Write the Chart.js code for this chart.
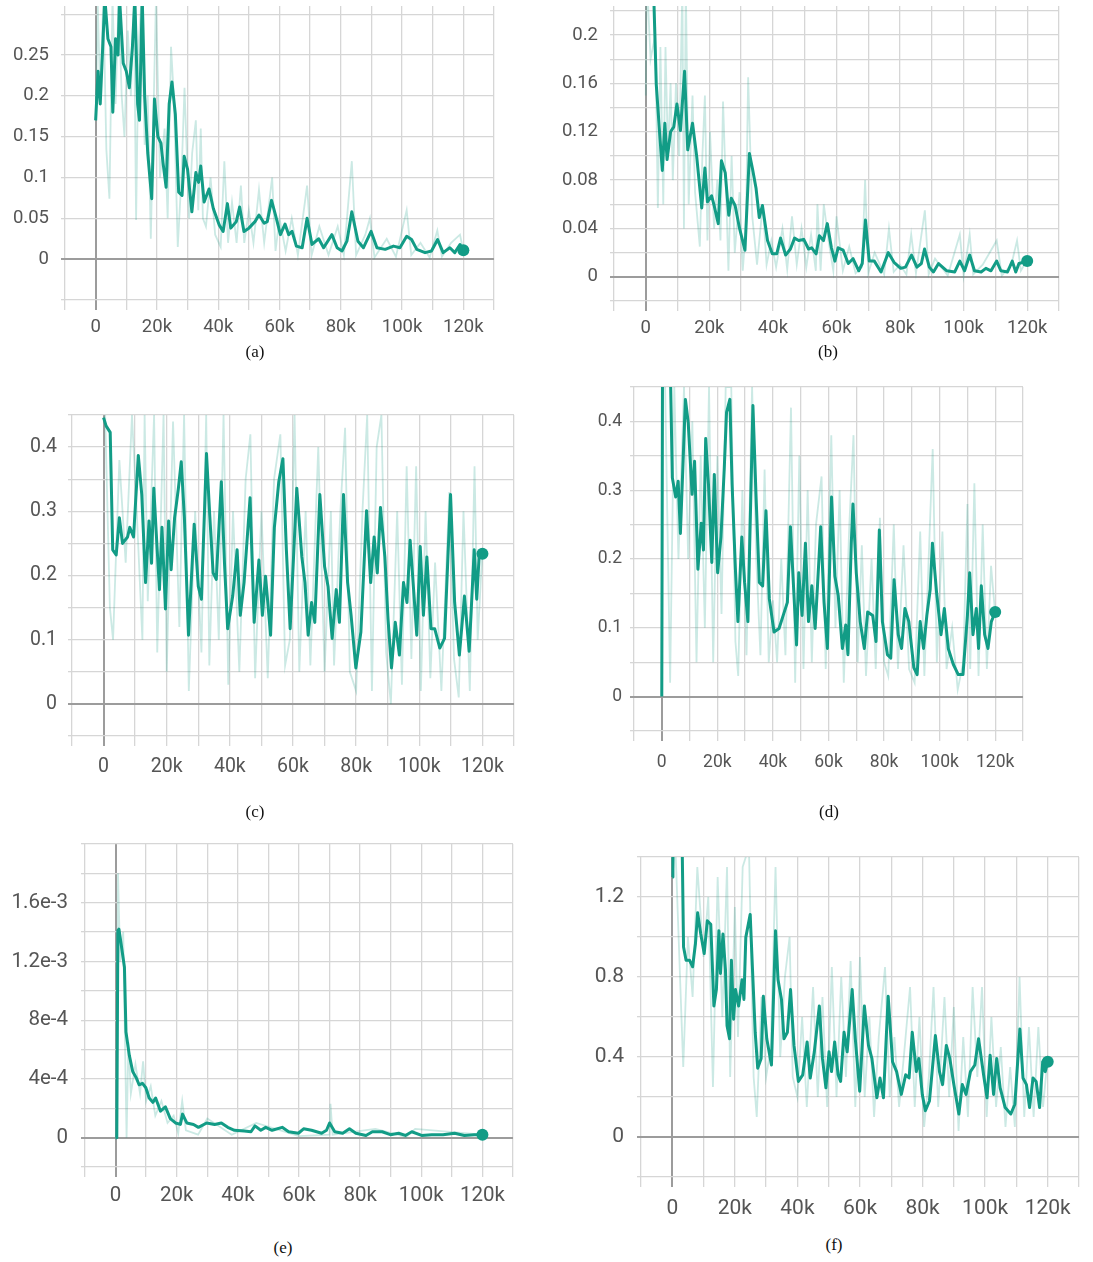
<!DOCTYPE html>
<html>
<head>
<meta charset="utf-8">
<title>Training loss curves</title>
<style>
  body { margin: 0; background: #fff; }
  #page { position: relative; width: 1093px; height: 1262px; overflow: hidden; background: #fff; }
  .panel { position: absolute; }
  .caption {
    position: absolute;
    font-family: "Liberation Serif", "Times New Roman", serif;
    font-size: 17px;
    color: #111;
    transform: translateX(-50%);
  }
</style>
</head>
<body>
<div id="page"></div>

<script src="https://cdn.jsdelivr.net/npm/chart.js"></script>
<script>
  // x axis: training steps in thousands
  const xTicks = [0, 20, 40, 60, 80, 100, 120];
  const xLabels = ["0", "20k", "40k", "60k", "80k", "100k", "120k"];

  // (a)
  const aSteps = [0, 0.8, 1.5, 3, 4, 5, 5.6, 6.5, 7.3, 7.8, 9, 10, 11, 12, 12.8, 13.7, 14.3, 15.2, 16, 17, 18.3, 19.2, 20.3, 21.3, 22, 23, 24, 24.9, 26, 27.1, 28.2, 28.9, 30, 31.4, 32.7, 33.6, 34.3, 35.4, 37, 38.4, 40.3, 41.6, 43, 44.1, 45.9, 47, 48.4, 50, 52, 53.3, 55, 56, 57.4, 58.7, 60.3, 61.8, 63, 64.1, 65.5, 67.4, 69, 70.6, 72.8, 74.4, 77.1, 78.8, 80.4, 82, 83.6, 85.6, 87.4, 89.9, 91.8, 94.5, 97.2, 99.3, 101.5, 103.1, 104.8, 107.5, 109.6, 111.6, 113.4, 115.6, 117.2, 118.9, 120];
  const aSmooth = [0.17, 0.23, 0.19, 0.32, 0.27, 0.26, 0.18, 0.27, 0.25, 0.32, 0.24, 0.23, 0.21, 0.26, 0.32, 0.19, 0.17, 0.32, 0.2, 0.13, 0.074, 0.196, 0.15, 0.142, 0.118, 0.088, 0.19, 0.217, 0.178, 0.082, 0.078, 0.126, 0.11, 0.058, 0.106, 0.094, 0.114, 0.07, 0.086, 0.062, 0.042, 0.034, 0.068, 0.038, 0.046, 0.064, 0.034, 0.038, 0.046, 0.054, 0.044, 0.046, 0.072, 0.054, 0.03, 0.043, 0.03, 0.034, 0.016, 0.014, 0.05, 0.018, 0.025, 0.014, 0.03, 0.014, 0.01, 0.022, 0.058, 0.022, 0.014, 0.034, 0.014, 0.012, 0.016, 0.014, 0.028, 0.024, 0.012, 0.008, 0.01, 0.024, 0.008, 0.014, 0.008, 0.018, 0.011];
  const aRawSteps = [0, 0.7, 1.5, 2.5, 3.5, 4.5, 5.5, 6.5, 7.5, 8.5, 9.4, 10.5, 11.5, 12.5, 13.2, 14, 15, 16, 17, 18, 19, 19.7, 21, 22.5, 23.5, 24.6, 25.5, 26.8, 28, 29, 30.5, 31.5, 32.7, 33.5, 34.3, 35, 36, 37.5, 39, 40.8, 42, 43.2, 44.5, 46, 47.4, 48.5, 50, 51.5, 53.3, 55, 57.6, 58.7, 60, 62, 64, 66, 69, 70.5, 73, 76, 79, 81, 83.6, 85, 88, 89.5, 91, 95, 98, 101.5, 103, 106, 109, 111.5, 113, 116, 118.9, 120];
  const aRaw = [0.17, 0.31, 0.2, 0.32, 0.134, 0.074, 0.32, 0.19, 0.32, 0.2, 0.15, 0.28, 0.2, 0.32, 0.048, 0.26, 0.32, 0.14, 0.2, 0.025, 0.2, 0.32, 0.1, 0.16, 0.05, 0.26, 0.2, 0.015, 0.1, 0.21, 0.05, 0.13, 0.17, 0.06, 0.16, 0.05, 0.04, 0.1, 0.03, 0.015, 0.12, 0.02, 0.07, 0.02, 0.09, 0.02, 0.06, 0.02, 0.085, 0.02, 0.1, 0.01, 0.05, 0.01, 0.05, 0.005, 0.09, 0.005, 0.04, 0.005, 0.04, 0.005, 0.12, 0.005, 0.03, 0.05, 0.002, 0.025, 0.003, 0.06, 0.005, 0.02, 0.002, 0.035, 0.003, 0.02, 0.03, 0.01];
  const aYTicks = [0, 0.05, 0.1, 0.15, 0.2, 0.25];
  const aYLabels = ["0", "0.05", "0.1", "0.15", "0.2", "0.25"];

  // (b)
  const bSteps = [2, 2.6, 3.3, 4.3, 5.2, 6, 6.7, 7.8, 8.8, 9.8, 10.9, 12.2, 13.2, 14.7, 16, 17.6, 18.6, 19.4, 20.7, 21.5, 22.8, 23.8, 25, 26.1, 26.9, 28.1, 29.5, 31.2, 32.6, 33.6, 34.7, 35.7, 36.7, 38.3, 39.8, 41.2, 42.4, 44, 45.5, 46.8, 48.1, 49.7, 51.2, 52.2, 53.6, 54.6, 55.9, 57.1, 58.4, 59.5, 60.5, 62.1, 63.7, 65.2, 67, 68.1, 69.1, 70.3, 71.9, 74, 76.3, 78.1, 80.2, 81.7, 83.6, 85.3, 86.7, 87.7, 89.2, 90.5, 92.1, 94.7, 97.2, 98.8, 100.3, 101.9, 103.4, 105.5, 107, 108.6, 110.4, 111.7, 113.8, 115.3, 116.4, 117.4, 120];
  const bSmooth = [0.25, 0.224, 0.159, 0.121, 0.088, 0.127, 0.097, 0.12, 0.124, 0.143, 0.121, 0.17, 0.105, 0.127, 0.1, 0.057, 0.09, 0.062, 0.067, 0.059, 0.044, 0.096, 0.086, 0.051, 0.065, 0.059, 0.04, 0.022, 0.102, 0.089, 0.073, 0.049, 0.059, 0.03, 0.019, 0.019, 0.032, 0.018, 0.023, 0.032, 0.03, 0.031, 0.023, 0.024, 0.019, 0.034, 0.03, 0.044, 0.024, 0.013, 0.024, 0.022, 0.011, 0.015, 0.005, 0.011, 0.047, 0.013, 0.013, 0.004, 0.02, 0.012, 0.007, 0.008, 0.018, 0.008, 0.011, 0.023, 0.008, 0.004, 0.011, 0.005, 0.004, 0.013, 0.005, 0.018, 0.005, 0.004, 0.007, 0.005, 0.013, 0.005, 0.004, 0.013, 0.004, 0.011, 0.013];
  const bRawSteps = [0, 0.3, 1.5, 3, 3.8, 4.6, 5.5, 6.2, 7, 7.8, 8.5, 9.5, 10.5, 11.5, 12, 12.6, 13.5, 14.7, 15.5, 17, 17.8, 18.6, 19.4, 20.2, 21.5, 22.5, 23.5, 24.3, 25.5, 26, 27, 28, 29.5, 30.5, 31.5, 32.2, 33.5, 35, 36.8, 38, 39.5, 41, 43, 44.5, 46, 47.5, 49, 50.5, 52, 53.5, 54, 55, 56, 57.5, 59, 60, 62, 64, 66, 68, 69, 70, 72, 75, 76.5, 78, 80, 82, 83.5, 85, 87.8, 89, 91, 95, 98.8, 100, 101.9, 103, 106, 110.4, 112, 115, 116.8, 118, 120];
  const bRaw = [0.15, 0.25, 0.18, 0.2, 0.057, 0.19, 0.06, 0.19, 0.1, 0.16, 0.08, 0.16, 0.1, 0.24, 0.04, 0.24, 0.06, 0.15, 0.07, 0.025, 0.1, 0.15, 0.03, 0.12, 0.04, 0.08, 0.03, 0.145, 0.05, 0.005, 0.1, 0.02, 0.07, 0.005, 0.04, 0.165, 0.05, 0.01, 0.06, 0.01, 0.03, 0.008, 0.04, 0.006, 0.05, 0.01, 0.04, 0.008, 0.035, 0.005, 0.06, 0.005, 0.06, 0.03, 0.005, 0.05, 0.005, 0.025, 0.003, 0.008, 0.08, 0.003, 0.02, 0.002, 0.04, 0.004, 0.01, 0.002, 0.035, 0.003, 0.055, 0.002, 0.015, 0.001, 0.035, 0.001, 0.035, 0.002, 0.01, 0.03, 0.001, 0.01, 0.03, 0.005, 0.014];
  const bYTicks = [0, 0.04, 0.08, 0.12, 0.16, 0.2];
  const bYLabels = ["0", "0.04", "0.08", "0.12", "0.16", "0.2"];

  // (c)
  const cSteps = [0, 0.8, 2.1, 2.9, 4, 5, 6, 7.6, 8.3, 9.5, 11, 12.1, 13.3, 14.4, 15.2, 15.9, 16.7, 17.7, 18.5, 19.6, 20.6, 21.4, 22.5, 23.7, 24.6, 25.6, 26.9, 28.7, 30, 31, 32.6, 33.6, 34.7, 35.7, 37.3, 38.3, 39.3, 40.9, 42.3, 43.3, 44.5, 46.4, 47.7, 49.2, 50.3, 51.3, 52.9, 54.1, 55.5, 56.8, 57.9, 59.1, 61.2, 62.8, 63.8, 64.8, 65.9, 66.9, 68.5, 70, 71.1, 72.4, 73.7, 74.7, 76, 77.3, 78.4, 79.9, 81.5, 83.3, 84.6, 85.7, 86.7, 87.7, 89.1, 90.1, 91.2, 92.4, 93.7, 95, 96.1, 97.1, 98.2, 99.2, 100.3, 101.3, 102.4, 103.7, 104.9, 106.5, 108, 109.9, 111.2, 112.7, 114.3, 115.8, 117.4, 118.2, 119, 120];
  const cSmooth = [0.446, 0.433, 0.423, 0.24, 0.232, 0.29, 0.25, 0.26, 0.275, 0.26, 0.387, 0.326, 0.189, 0.285, 0.219, 0.336, 0.265, 0.178, 0.275, 0.148, 0.285, 0.209, 0.29, 0.336, 0.377, 0.29, 0.107, 0.28, 0.183, 0.163, 0.39, 0.296, 0.204, 0.194, 0.346, 0.219, 0.117, 0.168, 0.24, 0.138, 0.189, 0.321, 0.127, 0.224, 0.138, 0.199, 0.107, 0.275, 0.346, 0.382, 0.24, 0.117, 0.336, 0.229, 0.189, 0.107, 0.158, 0.127, 0.326, 0.214, 0.183, 0.102, 0.178, 0.127, 0.326, 0.189, 0.138, 0.056, 0.112, 0.301, 0.189, 0.26, 0.204, 0.306, 0.229, 0.132, 0.056, 0.127, 0.076, 0.189, 0.158, 0.255, 0.178, 0.107, 0.245, 0.138, 0.229, 0.117, 0.117, 0.087, 0.102, 0.326, 0.158, 0.076, 0.168, 0.082, 0.24, 0.163, 0.234, 0.234];
  const cRawSteps = [0.5, 2, 3, 5, 7, 9, 10.5, 12.3, 13, 14, 16, 17, 19, 20, 22, 24, 25.5, 27, 29, 31, 32.5, 33.5, 35, 36.5, 38, 39.5, 41, 43, 45, 46.5, 48, 50, 52, 54, 56, 57.5, 59, 60.5, 62, 64, 65.5, 68, 70, 72, 73, 75, 76.5, 78, 80, 82, 83.5, 85, 86.5, 88, 89.5, 91, 93, 94.5, 96, 97.5, 99, 100.5, 102, 103.5, 105, 107, 109.5, 111, 112.5, 114, 116, 117.5, 118.5, 120];
  const cRaw = [0.45, 0.15, 0.1, 0.38, 0.22, 0.45, 0.3, 0.1, 0.45, 0.16, 0.45, 0.08, 0.45, 0.05, 0.44, 0.12, 0.45, 0.02, 0.3, 0.08, 0.45, 0.06, 0.3, 0.1, 0.45, 0.03, 0.3, 0.05, 0.35, 0.42, 0.04, 0.3, 0.04, 0.35, 0.42, 0.06, 0.1, 0.45, 0.05, 0.3, 0.06, 0.4, 0.05, 0.3, 0.06, 0.3, 0.43, 0.05, 0.02, 0.3, 0.45, 0.02, 0.4, 0.45, 0.08, 0.0, 0.3, 0.03, 0.37, 0.07, 0.37, 0.02, 0.3, 0.04, 0.22, 0.02, 0.33, 0.07, 0.01, 0.3, 0.02, 0.37, 0.1, 0.24];
  const cYTicks = [0, 0.1, 0.2, 0.3, 0.4];
  const cYLabels = ["0", "0.1", "0.2", "0.3", "0.4"];

  // (d)
  const dSteps = [0, 0.3, 2, 3.2, 3.8, 5, 5.9, 6.7, 8.5, 9.5, 10.9, 11.8, 13, 14.2, 15, 15.8, 16.8, 18, 18.9, 20.1, 21.3, 22.5, 23.3, 24.5, 25.3, 26.5, 27.4, 28.8, 29.8, 31, 32.8, 33.9, 35.1, 36.3, 37.5, 38.7, 40.4, 42.2, 43.7, 45.2, 46.3, 48.5, 49.3, 50.5, 51.7, 52.8, 54, 55.2, 57.2, 58.4, 59.6, 61.1, 62.3, 63.5, 65, 66.2, 67, 68.2, 68.8, 70, 71.4, 72.9, 74.1, 75.9, 77.1, 78.3, 79.4, 81.2, 82.4, 83.6, 85.1, 86.3, 87.5, 88.9, 90.7, 91.9, 93, 94.2, 95.4, 96.6, 97.4, 98.9, 100.5, 101.7, 103.1, 104.9, 106.7, 108.4, 110, 110.8, 112, 113.2, 114, 115, 116.2, 117.4, 118.6, 120];
  const dSmooth = [0, 0.55, 0.55, 0.45, 0.318, 0.29, 0.313, 0.237, 0.432, 0.399, 0.294, 0.342, 0.185, 0.252, 0.213, 0.375, 0.309, 0.195, 0.323, 0.18, 0.232, 0.333, 0.413, 0.432, 0.309, 0.185, 0.109, 0.232, 0.166, 0.109, 0.423, 0.294, 0.166, 0.161, 0.27, 0.142, 0.094, 0.099, 0.118, 0.137, 0.247, 0.075, 0.18, 0.118, 0.223, 0.109, 0.161, 0.099, 0.247, 0.137, 0.07, 0.29, 0.175, 0.147, 0.07, 0.104, 0.061, 0.223, 0.28, 0.18, 0.109, 0.07, 0.123, 0.118, 0.08, 0.242, 0.109, 0.061, 0.056, 0.17, 0.09, 0.07, 0.128, 0.109, 0.042, 0.032, 0.109, 0.07, 0.118, 0.156, 0.223, 0.151, 0.09, 0.128, 0.07, 0.047, 0.032, 0.032, 0.118, 0.18, 0.09, 0.128, 0.07, 0.161, 0.09, 0.07, 0.109, 0.123];
  const dRawSteps = [1, 3, 4.5, 6, 8, 9.5, 11, 12.5, 14, 15.5, 17, 18.5, 20, 21.5, 23, 25, 26.5, 27.5, 29, 30.5, 32.5, 34, 35.5, 37, 38.5, 40, 41.5, 43, 44.5, 46.5, 48, 49.5, 51, 52.5, 54, 55.5, 57.5, 59, 61, 62.5, 64, 65.5, 67.5, 69, 70.5, 72, 73.5, 75.5, 77, 78.5, 80, 81.5, 83.5, 85, 87, 89, 91, 93, 94.5, 96.5, 97.5, 99, 101, 102.5, 104.5, 106.5, 108.5, 110, 111, 112.5, 114, 115.5, 117, 118.5, 120];
  const dRaw = [0.5, 0.02, 0.45, 0.2, 0.45, 0.2, 0.4, 0.05, 0.35, 0.1, 0.45, 0.05, 0.35, 0.12, 0.45, 0.45, 0.08, 0.03, 0.3, 0.06, 0.45, 0.2, 0.06, 0.33, 0.05, 0.14, 0.05, 0.2, 0.06, 0.42, 0.02, 0.35, 0.04, 0.3, 0.05, 0.25, 0.32, 0.04, 0.38, 0.1, 0.3, 0.02, 0.25, 0.38, 0.05, 0.22, 0.03, 0.2, 0.04, 0.26, 0.05, 0.03, 0.25, 0.04, 0.22, 0.04, 0.02, 0.24, 0.03, 0.25, 0.36, 0.05, 0.24, 0.04, 0.1, 0.01, 0.05, 0.28, 0.04, 0.31, 0.03, 0.25, 0.04, 0.19, 0.12];
  const dYTicks = [0, 0.1, 0.2, 0.3, 0.4];
  const dYLabels = ["0", "0.1", "0.2", "0.3", "0.4"];

  // (e)
  const eSteps = [0, 0.4, 0.75, 1.1, 1.8, 2.9, 3.4, 4.5, 5.6, 6.7, 7.7, 8.8, 9.9, 11, 12.2, 13.1, 14.7, 16.3, 17.9, 19.6, 21.2, 21.9, 23.3, 25.5, 27.1, 29.8, 32.4, 34.6, 36.7, 38.9, 42.1, 44.3, 45.6, 47.5, 49.1, 51.2, 54.5, 56.6, 59.8, 61.5, 64.1, 67.4, 69, 70, 71.7, 74.3, 76.5, 78.6, 81.9, 84, 87.2, 89.9, 92.6, 94.8, 96.9, 100.1, 103.4, 107.1, 110.9, 114.1, 117.3, 120];
  const eSmooth = [0, 0, 0.00141, 0.00142, 0.00132, 0.00116, 0.00072, 0.00056, 0.00045, 0.00041, 0.00036, 0.00037, 0.00034, 0.00027, 0.00024, 0.00027, 0.00018, 0.00021, 0.00013, 0.0001, 0.00009, 0.00016, 0.0001, 0.00009, 0.00007, 0.0001, 0.00009, 0.0001, 0.00007, 0.00005, 0.000045, 0.00004, 0.00008, 0.00005, 0.00007, 0.00005, 0.00007, 0.00004, 0.00003, 0.00006, 0.00005, 0.00003, 0.00005, 0.0001, 0.00004, 0.00003, 0.00006, 0.00003, 0.000015, 0.00004, 0.00004, 0.00002, 0.00003, 0.000015, 0.00004, 0.000015, 0.00002, 0.00002, 0.00003, 0.000015, 0.00002, 0.00002];
  const eRawSteps = [0, 0.3, 0.8, 1.5, 2.5, 3.6, 4.2, 5, 6.5, 8, 9, 10, 11.5, 13, 15, 17, 19, 20.5, 21.8, 23, 27, 30, 38, 46, 60, 70, 70.3, 71, 85, 95, 98, 120];
  const eRaw = [0, 0, 0.0018, 0.0012, 0.0014, 0.0, 0.00065, 0.0003, 0.0005, 0.0003, 0.00052, 0.00025, 0.00035, 0.00015, 0.00025, 0.0001, 0.00015, 0.00003, 0.00025, 0.00005, 0.00002, 0.00013, 0.00002, 0.0001, 0.00001, 0.00002, 0.00023, 0.00002, 0.00006, 0.000005, 0.00006, 0.00002];
  const eYTicks = [0, 0.0004, 0.0008, 0.0012, 0.0016];
  const eYLabels = ["0", "4e-4", "8e-4", "1.2e-3", "1.6e-3"];

  // (f)
  const fSteps = [0, 0.2, 2.3, 3.2, 3.6, 4.4, 5.5, 6.5, 7.4, 8.1, 9.1, 10.2, 11.2, 12.3, 13.3, 14.1, 14.9, 15.4, 16.2, 17, 17.5, 18.3, 18.9, 19.6, 20.2, 21.2, 22.3, 22.9, 23.5, 24.9, 25.6, 26.5, 27.3, 28.4, 29.1, 30.2, 31.7, 33, 33.8, 34.9, 35.7, 36.8, 37.8, 38.9, 40.3, 41.7, 43.1, 44.1, 45.4, 47, 48, 49.1, 50.1, 50.9, 51.9, 53, 53.8, 54.9, 55.9, 57.5, 58.5, 59.9, 61.4, 62.7, 63.8, 65.4, 66.4, 67.5, 69, 70.4, 71.7, 73.2, 74.6, 75.7, 76.7, 78, 78.8, 79.9, 80.9, 82.2, 84.1, 85.4, 86.4, 87.6, 88.7, 90, 91.6, 92.7, 93.9, 95.3, 96.7, 97.9, 99.5, 100.6, 101.6, 102.7, 103.7, 104.8, 106.4, 108.2, 109.5, 111.1, 112.1, 113.2, 114.2, 115.3, 116.3, 117.4, 118.4, 119.2, 120];
  const fSmooth = [1.3, 1.41, 1.45, 1.41, 0.95, 0.884, 0.884, 0.851, 0.966, 1.121, 1.015, 0.917, 1.081, 1.064, 0.655, 0.737, 1.031, 0.818, 1.015, 0.835, 0.556, 0.491, 0.884, 0.589, 0.737, 0.655, 0.786, 0.688, 0.998, 1.113, 0.851, 0.524, 0.344, 0.393, 0.704, 0.491, 0.36, 1.031, 0.786, 0.688, 0.491, 0.524, 0.737, 0.458, 0.278, 0.311, 0.475, 0.295, 0.426, 0.655, 0.393, 0.246, 0.426, 0.327, 0.475, 0.311, 0.278, 0.524, 0.426, 0.737, 0.491, 0.229, 0.655, 0.458, 0.393, 0.196, 0.295, 0.196, 0.704, 0.376, 0.327, 0.213, 0.311, 0.295, 0.524, 0.327, 0.393, 0.213, 0.131, 0.18, 0.507, 0.327, 0.262, 0.458, 0.393, 0.262, 0.115, 0.262, 0.213, 0.327, 0.36, 0.491, 0.311, 0.196, 0.409, 0.213, 0.393, 0.246, 0.147, 0.115, 0.164, 0.54, 0.295, 0.262, 0.147, 0.295, 0.278, 0.147, 0.376, 0.327, 0.376];
  const fRawSteps = [0, 1, 3.5, 5, 6.5, 8, 10, 11.5, 13, 14.5, 16, 17.5, 18.5, 20, 21, 22.5, 24.5, 26, 27, 28.5, 30, 31.5, 33, 34.5, 36, 37.5, 38.5, 40, 41.5, 43, 45, 46.5, 48, 49.5, 51, 52.5, 54, 55.5, 57, 58.5, 60, 61.5, 63, 64.5, 66, 68, 69.5, 71, 72.5, 74, 76, 77.5, 79, 80.5, 82, 83.5, 85, 87, 88.5, 90, 91.5, 93, 94.5, 96, 97.5, 99, 100.5, 102, 103.5, 105, 106.5, 108, 109.5, 111, 112.5, 114, 115.5, 117, 118.5, 120];
  const fRaw = [1.3, 1.45, 0.35, 1.0, 0.7, 1.35, 0.9, 1.2, 0.25, 1.3, 0.6, 1.35, 0.3, 1.15, 0.5, 1.35, 1.45, 0.3, 0.1, 0.7, 0.3, 0.45, 1.35, 0.4, 0.8, 1.0, 0.3, 0.2, 0.6, 0.15, 0.75, 0.2, 0.7, 0.15, 0.85, 0.2, 0.8, 0.3, 0.88, 0.15, 0.9, 0.2, 0.6, 0.1, 0.5, 0.85, 0.2, 0.5, 0.15, 0.4, 0.75, 0.15, 0.6, 0.05, 0.3, 0.75, 0.15, 0.7, 0.2, 0.65, 0.03, 0.5, 0.1, 0.75, 0.3, 0.75, 0.1, 0.6, 0.15, 0.45, 0.05, 0.35, 0.05, 0.8, 0.1, 0.55, 0.1, 0.55, 0.15, 0.4];
  const fYTicks = [0, 0.4, 0.8, 1.2];
  const fYLabels = ["0", "0.4", "0.8", "1.2"];

  // panel layout (plot area in page pixels)
  const panels = [
    { cap: "(a)", steps: aSteps, smooth: aSmooth, rawSteps: aRawSteps, raw: aRaw, yTicks: aYTicks, yLabels: aYLabels,
      left: 65, top: 0, w: 435, h: 300, yMin: -0.05, yMax: 0.31, yStep: 0.05, font: 18.5, xPad: 6, yPad: 12, capX: 255, capY: 342 },
    { cap: "(b)", steps: bSteps, smooth: bSmooth, rawSteps: bRawSteps, raw: bRaw, yTicks: bYTicks, yLabels: bYLabels,
      left: 614, top: 0, w: 451, h: 301, yMin: -0.02, yMax: 0.224, yStep: 0.02, font: 18.5, xPad: 6, yPad: 12, capX: 828, capY: 342 },
    { cap: "(c)", steps: cSteps, smooth: cSmooth, rawSteps: cRawSteps, raw: cRaw, yTicks: cYTicks, yLabels: cYLabels,
      left: 72, top: 409, w: 448, h: 327, yMin: -0.05, yMax: 0.45, yStep: 0.05, font: 19.5, xPad: 9, yPad: 11, capX: 255, capY: 802 },
    { cap: "(d)", steps: dSteps, smooth: dSmooth, rawSteps: dRawSteps, raw: dRaw, yTicks: dYTicks, yLabels: dYLabels,
      left: 634, top: 381, w: 395, h: 350, yMin: -0.05, yMax: 0.45, yStep: 0.05, font: 17.5, xPad: 11, yPad: 8, capX: 829, capY: 802 },
    { cap: "(e)", steps: eSteps, smooth: eSmooth, rawSteps: eRawSteps, raw: eRaw, yTicks: eYTicks, yLabels: eYLabels,
      left: 85, top: 838, w: 434, h: 329, yMin: -0.0002, yMax: 0.002, yStep: 0.0002, font: 20.5, xPad: 7, yPad: 13, capX: 283, capY: 1238 },
    { cap: "(f)", steps: fSteps, smooth: fSmooth, rawSteps: fRawSteps, raw: fRaw, yTicks: fYTicks, yLabels: fYLabels,
      left: 641, top: 851, w: 444, h: 326, yMin: -0.2, yMax: 1.4, yStep: 0.2, font: 21, xPad: 9, yPad: 13, capX: 834, capY: 1235 },
  ];

  const Y_W = 86;
  const X_H = 50;
  const TEAL = "#129c86";
  const TEAL_FAINT = "rgba(18,156,134,0.22)";
  const TICK_COLOR = "#555555";
  const page = document.getElementById("page");

  Chart.defaults.font.family = "Roboto, 'Liberation Sans', sans-serif";

  function pairs(xs, ys) {
    return xs.map((x, i) => ({ x: x, y: ys[i] }));
  }

  function labelFor(values, labels) {
    return (v) => {
      const i = values.findIndex((t) => Math.abs(t - v) < 1e-9);
      return i >= 0 ? labels[i] : "";
    };
  }

  function isZero(ctx) {
    return ctx.tick && Math.abs(ctx.tick.value) < 1e-9;
  }

  panels.forEach((p) => {
    const box = document.createElement("div");
    box.className = "panel";
    box.style.left = p.left - Y_W + "px";
    box.style.top = p.top + "px";
    box.style.width = Y_W + p.w + "px";
    box.style.height = p.h + X_H + "px";
    const canvas = document.createElement("canvas");
    box.appendChild(canvas);
    page.appendChild(box);

    const cap = document.createElement("div");
    cap.className = "caption";
    cap.style.left = p.capX + "px";
    cap.style.top = p.capY + "px";
    cap.textContent = p.cap;
    page.appendChild(cap);

    const last = p.steps.length - 1;

    new Chart(canvas, {
      type: "line",
      data: {
        datasets: [
          {
            data: pairs(p.steps, p.smooth),
            borderColor: TEAL,
            borderWidth: 3,
            borderJoinStyle: "round",
            pointRadius: (c) => (c.dataIndex === last ? 6 : 0),
            pointBackgroundColor: TEAL,
            pointBorderWidth: 0,
            tension: 0,
          },
          {
            data: pairs(p.rawSteps, p.raw),
            borderColor: TEAL_FAINT,
            borderWidth: 1.8,
            pointRadius: 0,
            tension: 0,
          },
        ],
      },
      options: {
        responsive: true,
        maintainAspectRatio: false,
        animation: false,
        layout: { padding: 0 },
        plugins: { legend: { display: false }, tooltip: { enabled: false } },
        scales: {
          x: {
            type: "linear",
            min: -10,
            max: 130,
            ticks: {
              stepSize: 10,
              autoSkip: false,
              maxRotation: 0,
              minRotation: 0,
              padding: p.xPad,
              color: TICK_COLOR,
              font: { size: p.font },
              callback: labelFor(xTicks, xLabels),
            },
            grid: {
              color: (c) => (isZero(c) ? "#9c9c9c" : "#d6d6d6"),
              lineWidth: (c) => (isZero(c) ? 2 : 1.3),
              tickLength: 10,
            },
            border: { display: false },
            afterFit: (s) => {
              s.height = X_H;
              s.paddingLeft = 0;
              s.paddingRight = 0;
            },
          },
          y: {
            min: p.yMin,
            max: p.yMax,
            ticks: {
              stepSize: p.yStep,
              includeBounds: false,
              autoSkip: false,
              padding: p.yPad,
              color: TICK_COLOR,
              font: { size: p.font },
              callback: labelFor(p.yTicks, p.yLabels),
            },
            grid: {
              color: (c) => (isZero(c) ? "#9c9c9c" : "#d6d6d6"),
              lineWidth: (c) => (isZero(c) ? 2 : 1.3),
              tickLength: 4,
            },
            border: { display: false },
            afterFit: (s) => {
              s.width = Y_W;
              s.paddingTop = 0;
              s.paddingBottom = 0;
            },
          },
        },
      },
    });
  });
</script>
</body>
</html>
